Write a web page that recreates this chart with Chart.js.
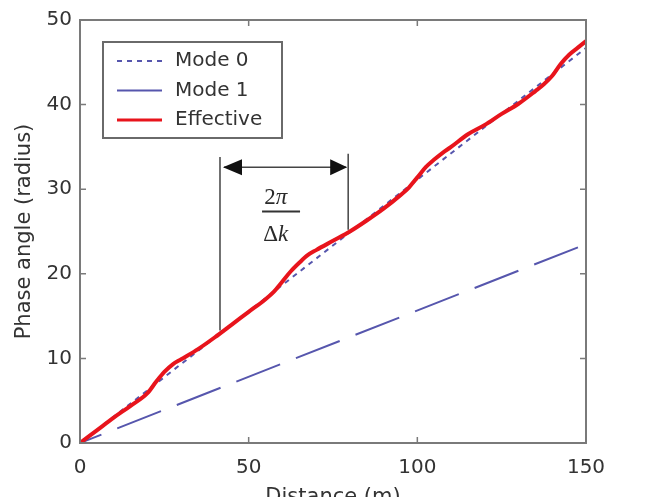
<!DOCTYPE html>
<html>
<head>
<meta charset="utf-8">
<script src="https://cdn.jsdelivr.net/npm/chart.js@4/dist/chart.umd.min.js"></script>
<style>
  html, body { margin: 0; padding: 0; background: #ffffff; }
  #wrap { width: 646px; height: 497px; position: relative; }
</style>
</head>
<body>
<div id="wrap"><canvas id="c"></canvas></div>
<script>
// ---- Data ----
const effectiveX = [0,5,10,15,20,22.5,25,27.5,30,35,40,45,50,55,57.5,60,62.5,65,67.5,70,75,80,85,90,95,97.5,100,102.5,105,107.5,110,115,120,125,130,135,137.5,140,142.5,145,147.5,150];
const effectiveY = [0,1.5,3.0,4.4,5.9,7.2,8.4,9.3,9.9,11.1,12.5,14.0,15.5,17.0,17.9,19.1,20.3,21.3,22.2,22.8,23.9,25.0,26.3,27.7,29.3,30.2,31.4,32.6,33.5,34.3,35.0,36.5,37.6,38.9,40.1,41.6,42.4,43.4,44.8,45.9,46.7,47.5];
const mode0X = [0, 150];
const mode0Y = [0, 46.7];
const mode1X = [0, 150];
const mode1Y = [0, 23.5];
const seriesLabels = ['Mode 0', 'Mode 1', 'Effective'];
const xTicks = [0, 50, 100, 150];
const yTicks = [0, 10, 20, 30, 40, 50];
const xTitle = 'Distance (m)';
const yTitle = 'Phase angle (radius)';
// annotation (data units): two vertical bars and the double arrow between them
const annotLeftX = 41.5, annotLeftY = [13.3, 33.8];
const annotRightX = 79.5, annotRightY = [25.2, 34.2];
const annotArrowY = 32.6;
const annotTextX = 58.0, annotBarX = 59.6, annotNumY = 29.0, annotBarY = 27.35, annotDenY = 24.6;

const toPts = (xs, ys) => xs.map((x, i) => ({x: x, y: ys[i]}));

const BLUE = '#5656ad';
const RED = '#e8141c';
const TXT = '#333333';
const FRAME = '#7a7a7a';
const FONT = 'DejaVu Sans';

const dashes = [[5,5],[47,17],[]];
const colors = [BLUE, BLUE, RED];
const widths = [2, 2, 4];

const framePlugin = {
  id: 'framePlugin',
  afterDraw(chart) {
    const ctx = chart.ctx;
    const a = chart.chartArea;
    const xs = chart.scales.x, ys = chart.scales.y;
    ctx.save();
    // frame
    ctx.strokeStyle = FRAME;
    ctx.lineWidth = 2;
    ctx.strokeRect(a.left, a.top, a.right - a.left, a.bottom - a.top);
    // inward ticks
    ctx.lineWidth = 1.5;
    ctx.beginPath();
    xTicks.forEach(v => {
      const px = xs.getPixelForValue(v);
      ctx.moveTo(px, a.bottom); ctx.lineTo(px, a.bottom - 6);
      ctx.moveTo(px, a.top); ctx.lineTo(px, a.top + 6);
    });
    yTicks.forEach(v => {
      const py = ys.getPixelForValue(v);
      ctx.moveTo(a.left, py); ctx.lineTo(a.left + 6, py);
      ctx.moveTo(a.right, py); ctx.lineTo(a.right - 6, py);
    });
    ctx.stroke();

    // annotation
    ctx.strokeStyle = '#444444';
    ctx.fillStyle = '#111111';
    ctx.lineWidth = 1.5;
    const lx = xs.getPixelForValue(annotLeftX), rx = xs.getPixelForValue(annotRightX);
    ctx.beginPath();
    ctx.moveTo(lx, ys.getPixelForValue(annotLeftY[0])); ctx.lineTo(lx, ys.getPixelForValue(annotLeftY[1]));
    ctx.moveTo(rx, ys.getPixelForValue(annotRightY[0])); ctx.lineTo(rx, ys.getPixelForValue(annotRightY[1]));
    const ay = ys.getPixelForValue(annotArrowY);
    ctx.moveTo(lx + 4, ay); ctx.lineTo(rx - 2, ay);
    ctx.stroke();
    // arrow heads
    ctx.beginPath();
    ctx.moveTo(lx + 3, ay); ctx.lineTo(lx + 22, ay - 8); ctx.lineTo(lx + 22, ay + 8); ctx.closePath();
    ctx.moveTo(rx - 1, ay); ctx.lineTo(rx - 18, ay - 8); ctx.lineTo(rx - 18, ay + 8); ctx.closePath();
    ctx.fill();
    // fraction 2π / Δk
    const tx = xs.getPixelForValue(annotTextX);
    const bx = xs.getPixelForValue(annotBarX);
    const SZ = 23;
    ctx.fillStyle = '#2a2a2a';
    ctx.textBaseline = 'middle';
    ctx.textAlign = 'left';
    ctx.font = SZ + 'px "Liberation Serif"';
    const w2 = ctx.measureText('2').width;
    ctx.font = 'italic ' + SZ + 'px "Liberation Serif"';
    const wpi = ctx.measureText('π').width;
    let sx = tx - (w2 + wpi) / 2;
    const ny = ys.getPixelForValue(annotNumY);
    ctx.font = SZ + 'px "Liberation Serif"';
    ctx.fillText('2', sx, ny);
    ctx.font = 'italic ' + SZ + 'px "Liberation Serif"';
    ctx.fillText('π', sx + w2, ny);
    const by = ys.getPixelForValue(annotBarY);
    ctx.lineWidth = 2;
    ctx.strokeStyle = '#333333';
    ctx.beginPath(); ctx.moveTo(bx - 19, by); ctx.lineTo(bx + 19, by); ctx.stroke();
    const dy = ys.getPixelForValue(annotDenY);
    ctx.font = SZ + 'px "Liberation Serif"';
    const wd = ctx.measureText('Δ').width;
    ctx.font = 'italic ' + SZ + 'px "Liberation Serif"';
    const wk = ctx.measureText('k').width;
    sx = tx - (wd + wk) / 2;
    ctx.font = SZ + 'px "Liberation Serif"';
    ctx.fillText('Δ', sx, dy);
    ctx.font = 'italic ' + SZ + 'px "Liberation Serif"';
    ctx.fillText('k', sx + wd, dy);

    // legend
    const L = a.left + 23, T = a.top + 22, W = 179, H = 96;
    ctx.fillStyle = '#ffffff';
    ctx.fillRect(L, T, W, H);
    ctx.strokeStyle = '#6a6a6a';
    ctx.lineWidth = 2;
    ctx.strokeRect(L, T, W, H);
    ctx.font = '20px "' + FONT + '"';
    ctx.textBaseline = 'middle';
    ctx.textAlign = 'left';
    seriesLabels.forEach((lab, i) => {
      const yy = T + 19 + i * 29.5;
      ctx.save();
      ctx.strokeStyle = colors[i];
      ctx.lineWidth = i === 2 ? 3 : 2;
      ctx.setLineDash(dashes[i]);
      ctx.beginPath(); ctx.moveTo(L + 14, yy); ctx.lineTo(L + 59, yy); ctx.stroke();
      ctx.restore();
      ctx.fillStyle = TXT;
      ctx.fillText(lab, L + 72, yy);
    });
    ctx.restore();
  }
};

new Chart(document.getElementById('c'), {
  type: 'line',
  data: {
    datasets: [
      { label: seriesLabels[2], data: toPts(effectiveX, effectiveY), borderColor: RED, borderWidth: widths[2],
        pointRadius: 0, cubicInterpolationMode: 'monotone', fill: false, order: 0 },
      { label: seriesLabels[0], data: toPts(mode0X, mode0Y), borderColor: BLUE, borderWidth: widths[0],
        borderDash: dashes[0], pointRadius: 0, fill: false, order: 1 },
      { label: seriesLabels[1], data: toPts(mode1X, mode1Y), borderColor: BLUE, borderWidth: widths[1],
        borderDash: dashes[1], borderDashOffset: 24, pointRadius: 0, fill: false, order: 2 }
    ]
  },
  options: {
    responsive: true,
    maintainAspectRatio: false,
    animation: false,
    layout: { padding: { top: 17, right: 60, left: 0, bottom: 0 } },
    plugins: { legend: { display: false }, tooltip: { enabled: false } },
    scales: {
      x: {
        type: 'linear', min: 0, max: 150,
        afterFit: s => { s.height = 54; },
        afterBuildTicks: s => { s.ticks = xTicks.map(v => ({value: v})); },
        grid: { display: false, drawTicks: false }, border: { display: false },
        ticks: { padding: 13, color: TXT, font: { family: FONT, size: 20 } },
        title: { display: true, text: xTitle, color: TXT, font: { family: FONT, size: 21 }, padding: { top: 0, bottom: -13 } }
      },
      y: {
        type: 'linear', min: 0, max: 50,
        afterFit: s => { s.width = 80; },
        afterBuildTicks: s => { s.ticks = yTicks.map(v => ({value: v})); },
        grid: { display: false, drawTicks: false }, border: { display: false },
        ticks: { padding: 8, color: TXT, font: { family: FONT, size: 20 } },
        title: { display: true, text: yTitle, color: TXT, font: { family: FONT, size: 21 }, padding: { top: 12, bottom: 0 } }
      }
    }
  },
  plugins: [framePlugin]
});
</script>
</body>
</html>
